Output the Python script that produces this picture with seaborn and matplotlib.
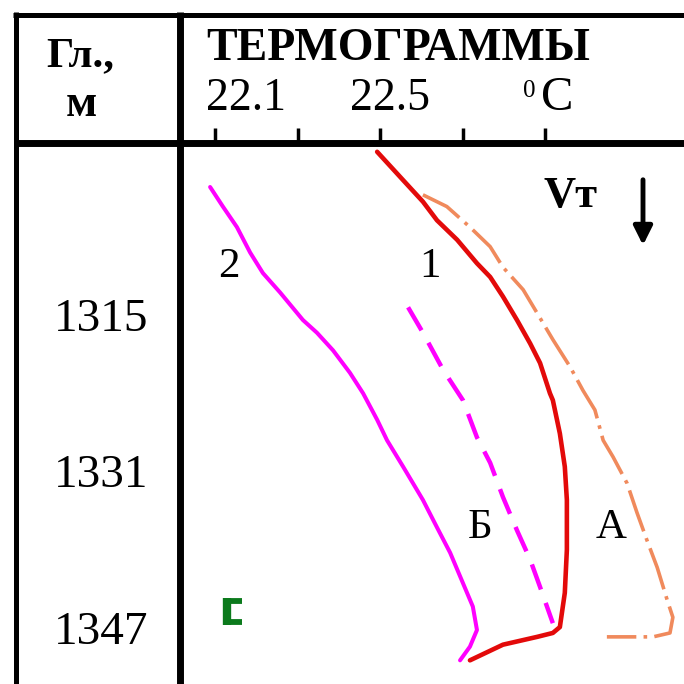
import matplotlib
matplotlib.use("Agg")
import matplotlib.pyplot as plt
import pandas as pd
import seaborn as sns
from matplotlib.lines import Line2D
from matplotlib.patches import FancyArrowPatch
from matplotlib.transforms import ScaledTranslation

# Thermogram 1 (solid red)
t1 = [22.493, 22.556, 22.604, 22.638, 22.687, 22.735, 22.767, 22.798, 22.832, 22.864,
      22.888, 22.912, 22.919, 22.929, 22.936, 22.948, 22.953, 22.953, 22.948, 22.936,
      22.919, 22.881, 22.798, 22.718]
d1 = [1297.8, 1300.7, 1302.9, 1304.8, 1306.8, 1309.2, 1310.6, 1312.6, 1315.0, 1317.4,
      1319.4, 1322.5, 1323.2, 1325.2, 1326.6, 1330.0, 1333.4, 1338.5, 1342.9, 1346.4,
      1347.0, 1347.4, 1348.2, 1349.8]

# Curve A (orange dash-dot)
tA = [22.604, 22.662, 22.718, 22.767, 22.798, 22.847, 22.881, 22.919, 22.961, 22.992,
      23.021, 23.041, 23.065, 23.099, 23.123, 23.147, 23.172, 23.196, 23.210, 23.203,
      23.162, 23.123, 23.050]
dA = [1302.2, 1303.4, 1305.5, 1307.5, 1309.6, 1311.9, 1314.3, 1317.0, 1319.8, 1322.2,
      1324.2, 1327.3, 1329.0, 1331.7, 1334.7, 1337.5, 1340.3, 1343.6, 1345.4, 1347.0,
      1347.4, 1347.4, 1347.4]

# Thermogram 2 (solid magenta)
t2 = [22.088, 22.119, 22.153, 22.185, 22.216, 22.258, 22.313, 22.347, 22.386, 22.427,
      22.459, 22.493, 22.517, 22.556, 22.604, 22.638, 22.670, 22.701, 22.725, 22.735,
      22.718, 22.694]
d2 = [1301.4, 1303.4, 1305.5, 1308.1, 1310.2, 1312.2, 1315.0, 1316.3, 1318.1, 1320.4,
      1322.5, 1325.2, 1327.3, 1330.0, 1333.4, 1336.2, 1338.8, 1341.9, 1344.3, 1346.7,
      1348.4, 1349.8]

# Curve Б (dashed magenta)
tB = [22.568, 22.604, 22.653, 22.701, 22.735, 22.767, 22.798, 22.832, 22.864, 22.888, 22.919]
dB = [1313.7, 1316.3, 1320.1, 1323.2, 1327.0, 1329.6, 1333.1, 1336.5, 1339.5, 1342.3, 1346.0]

temp_ticks = [22.1, 22.3, 22.5, 22.7, 22.9]
depth_ticks = [1299, 1307, 1315, 1323, 1331, 1339, 1347]
depth_labels = ["", "", "1315", "", "1331", "", "1347"]

sns.set_style("white")
plt.rcParams["font.family"] = ["Liberation Serif", "DejaVu Serif"]
plt.rcParams["text.color"] = "black"
plt.rcParams["xtick.color"] = "black"
plt.rcParams["ytick.color"] = "black"
plt.rcParams["xtick.labelcolor"] = "black"
plt.rcParams["ytick.labelcolor"] = "black"

W = 684
fig = plt.figure(figsize=(6.84, 6.84), dpi=100)


def fx(px):
    return px / W


def fy(py):
    return 1 - py / W


ax = fig.add_axes([fx(180), 0, fx(684) - fx(180), fy(143)])

curves = [
    (t1, d1, "#e30a0a", 3.3, "-"),
    (tA, dA, "#f08a5c", 2.6, (0, (12, 2, 1, 2))),
    (t2, d2, "#ff00ff", 2.9, "-"),
    (tB, dB, "#ff00ff", 3.2, (0, (6, 3.2))),
]
for t, d, color, lw, ls in curves:
    df = pd.DataFrame({"temp": t, "depth": d})
    sns.lineplot(data=df, x="temp", y="depth", sort=False, estimator=None,
                 color=color, linewidth=lw, linestyle=ls, ax=ax)

ax.set_xlim(22.015, 23.237)
ax.set_ylim(1352.22, 1296.90)
ax.set_xlabel("")
ax.set_ylabel("")

ax.xaxis.tick_top()
ax.set_xticks(temp_ticks)
ax.set_xticklabels([])
ax.tick_params(axis="x", direction="out", length=11, width=2.5, color="black")
ax.set_yticks(depth_ticks)
ax.set_yticklabels(depth_labels)
ax.tick_params(axis="y", direction="out", length=6.5, width=2.2, color="black",
               labelsize=34, pad=16, labelcolor="black")
for lbl in ax.get_yticklabels():
    lbl.set_transform(lbl.get_transform() + ScaledTranslation(0, 4 / 72, fig.dpi_scale_trans))

for side in ("right", "bottom"):
    ax.spines[side].set_visible(False)
for side in ("left", "top"):
    ax.spines[side].set_linewidth(5)
    ax.spines[side].set_color("black")

# table frame
frame = [
    ((13, 684), (14.5, 14.5), 3.6),
    ((15.5, 15.5), (12, 684), 3.6),
    ((15, 180), (143, 143), 5),
    ((180, 180), (12, 143), 5),
]
for xs, ys, lw in frame:
    fig.add_artist(Line2D([fx(xs[0]), fx(xs[1])], [fy(ys[0]), fy(ys[1])],
                          transform=fig.transFigure, color="black", lw=lw,
                          solid_capstyle="butt"))

# header texts
fig.text(fx(80), fy(66), "Гл.,", ha="center", va="baseline", fontsize=31, fontweight="bold")
fig.text(fx(81), fy(116), "м", ha="center", va="baseline", fontsize=33, fontweight="bold")
fig.text(fx(206), fy(60), "ТЕРМОГРАММЫ", ha="left", va="baseline", fontsize=33,
         fontweight="bold")
fig.text(fx(206), fy(110), "22.1", ha="left", va="baseline", fontsize=33)
fig.text(fx(350), fy(110), "22.5", ha="left", va="baseline", fontsize=33)
fig.text(fx(523), fy(97), "0", ha="left", va="baseline", fontsize=18)
fig.text(fx(541), fy(110), "C", ha="left", va="baseline", fontsize=35)

# curve annotations
fig.text(fx(543), fy(207), "Vт", ha="left", va="baseline", fontsize=32, fontweight="bold")
fig.text(fx(419), fy(277), "1", ha="left", va="baseline", fontsize=31)
fig.text(fx(218), fy(277), "2", ha="left", va="baseline", fontsize=31)
fig.text(fx(468), fy(538), "Б", ha="left", va="baseline", fontsize=31)
fig.text(fx(596), fy(538), "А", ha="left", va="baseline", fontsize=31)

# small green bracket mark: thick upright with two short arms
green = "#0b7a1c"
fig.add_artist(Line2D([fx(227), fx(227)], [fy(598), fy(625)],
                      transform=fig.transFigure, color=green, lw=6,
                      solid_capstyle="butt"))
for yy in (601, 622):
    fig.add_artist(Line2D([fx(224), fx(242)], [fy(yy), fy(yy)],
                          transform=fig.transFigure, color=green, lw=4.2,
                          solid_capstyle="butt"))

fig.add_artist(FancyArrowPatch((fx(643), fy(177)), (fx(643), fy(248)),
                               transform=fig.transFigure, arrowstyle="-|>",
                               mutation_scale=28, lw=3.5, color="black"))

fig.savefig("out.png", dpi=100, facecolor="white")
